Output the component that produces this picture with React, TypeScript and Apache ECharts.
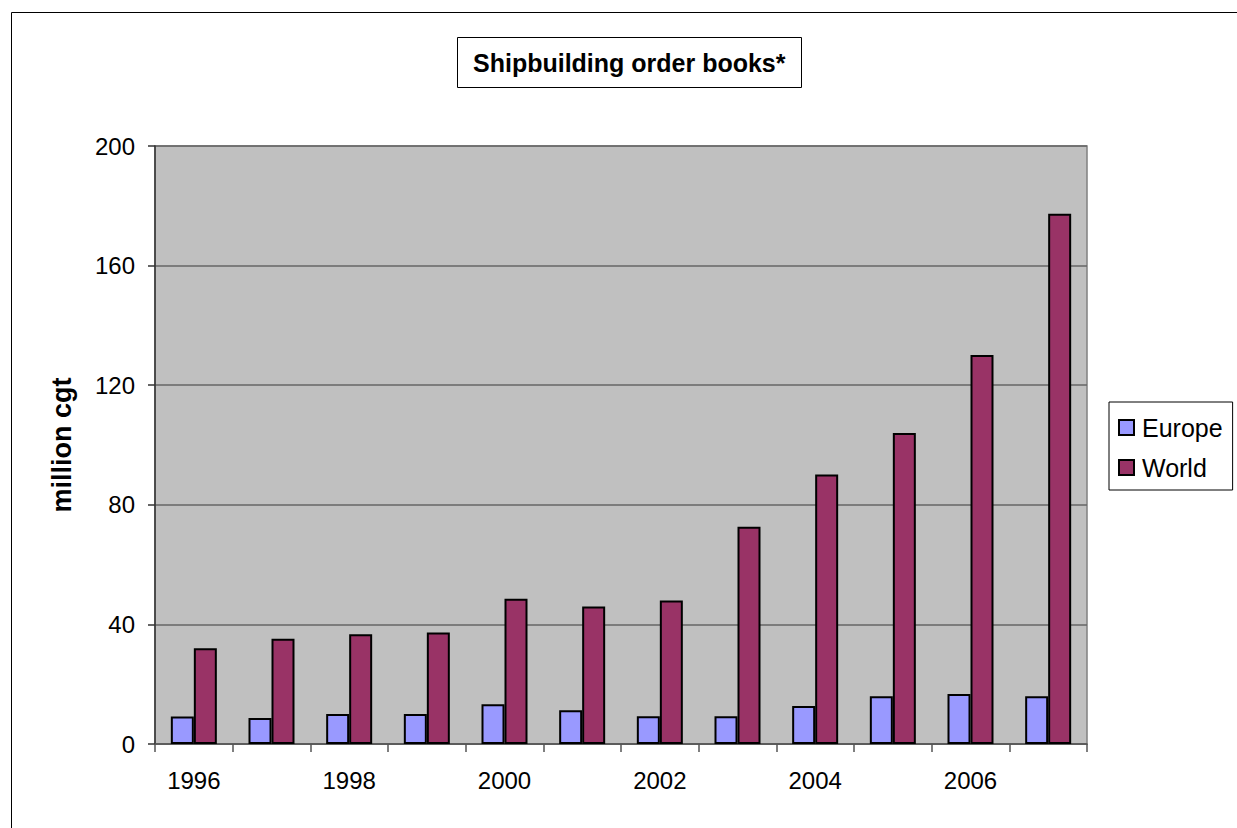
import React, { useEffect, useRef } from "react";
import * as echarts from "echarts";

const years = ["1996", "1997", "1998", "1999", "2000", "2001", "2002", "2003", "2004", "2005", "2006", "2007"];
const europe = [9.2, 8.7, 10.0, 10.0, 13.3, 11.3, 9.3, 9.3, 12.7, 16.0, 16.7, 16.0];
const world = [32.0, 35.2, 36.7, 37.3, 48.6, 46.0, 48.0, 72.7, 90.1, 104.0, 130.1, 177.3];
const yTicks = { min: 0, max: 200, interval: 40 };

const FONT = "'Liberation Sans', Arial, Helvetica, sans-serif";

export default function App() {
  const ref = useRef<HTMLDivElement>(null);
  useEffect(() => {
    if (!ref.current) return;
    const chart = echarts.init(ref.current, undefined, { renderer: "svg" });
    chart.setOption({
      animation: false,
      backgroundColor: "#ffffff",
      textStyle: { fontFamily: FONT },
      title: {
        text: "Shipbuilding order books*",
        left: 457,
        top: 37,
        padding: [13, 16, 13, 16],
        borderColor: "#000",
        borderWidth: 1,
        backgroundColor: "#fff",
        textStyle: { fontFamily: FONT, fontSize: 25, fontWeight: "bold", color: "#000" },
      },
      legend: {
        orient: "vertical",
        left: 1109,
        top: 402,
        padding: [13, 10, 10, 9],
        itemGap: 15,
        itemWidth: 15,
        itemHeight: 15,
        icon: "rect",
        borderColor: "#000",
        borderWidth: 1,
        backgroundColor: "#fff",
        textStyle: { fontFamily: FONT, fontSize: 25, color: "#000", padding: [0, 0, 0, 3] },
        data: ["Europe", "World"],
      },
      graphic: [
        {
          type: "rect",
          shape: { x: 11.5, y: 12.5, width: 1400, height: 1000 },
          style: { fill: "none", stroke: "#000", lineWidth: 1 },
          silent: true,
          z: -10,
        },
      ],
      grid: {
        left: 155,
        top: 146,
        right: 150,
        bottom: 84,
        show: true,
        backgroundColor: "#C0C0C0",
        borderColor: "#808080",
        borderWidth: 1.5,
      },
      xAxis: {
        type: "category",
        data: years,
        boundaryGap: true,
        axisLine: { show: true, lineStyle: { color: "#555", width: 1.5 } },
        axisTick: { show: true, length: 8, inside: false, lineStyle: { color: "#555", width: 1.5 }, interval: 0 },
        axisLabel: { interval: 1, margin: 24, fontSize: 24, color: "#000", fontFamily: FONT },
        splitLine: { show: false },
      },
      yAxis: {
        type: "value",
        min: yTicks.min,
        max: yTicks.max,
        interval: yTicks.interval,
        name: "million cgt",
        nameLocation: "middle",
        nameGap: 80,
        nameRotate: 90,
        nameTextStyle: { fontFamily: FONT, fontSize: 27, fontWeight: "bold", color: "#000" },
        axisLine: { show: true, lineStyle: { color: "#333", width: 1.5 } },
        axisTick: { show: true, length: 7, lineStyle: { color: "#333", width: 1.5 } },
        axisLabel: { margin: 20, fontSize: 24, color: "#000", fontFamily: FONT },
        splitLine: { show: true, lineStyle: { color: "#666", width: 1.5 } },
      },
      series: [
        {
          name: "Europe",
          type: "bar",
          data: europe,
          barWidth: 23,
          barGap: "0%",
          itemStyle: { color: "#9999FF", borderColor: "#000", borderWidth: 2 },
        },
        {
          name: "World",
          type: "bar",
          data: world,
          barWidth: 23,
          barGap: "0%",
          itemStyle: { color: "#993366", borderColor: "#000", borderWidth: 2 },
        },
      ],
    });
    return () => chart.dispose();
  }, []);
  return (
    <div
      ref={ref}
      style={{ position: "fixed", left: 0, top: 0, width: 1237, height: 828, background: "#fff" }}
    />
  );
}
